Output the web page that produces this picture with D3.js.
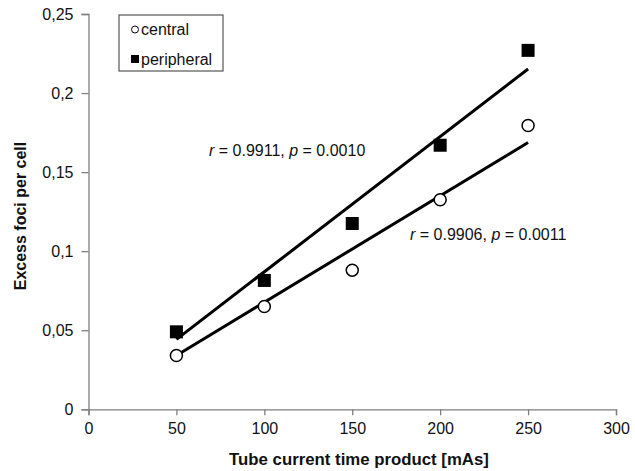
<!doctype html>
<html lang="en">
<head>
<meta charset="utf-8">
<title>Excess foci per cell</title>
<script src="https://cdn.jsdelivr.net/npm/d3@7"></script>
<style>
  body { margin: 0; background: #fff; }
  svg { display: block; font-family: "Liberation Sans", Arial, sans-serif; }
</style>
</head>
<body>
<svg id="chart" width="635" height="471"></svg>
<script>
// values
const mAs = [50, 100, 150, 200, 250];
const central = [0.034, 0.065, 0.088, 0.1325, 0.1795];
const peripheral = [0.049, 0.0815, 0.1175, 0.167, 0.227];
// fitted line end values at 50 and 250 mAs
const centralFit = [0.034, 0.1687];
const peripheralFit = [0.0442, 0.2152];
const xTicks = [0, 50, 100, 150, 200, 250, 300];
const yTicks = [0, 0.05, 0.1, 0.15, 0.2, 0.25];
const yTickLabels = ["0", "0,05", "0,1", "0,15", "0,2", "0,25"];

const svg = d3.select("#chart");
const x = d3.scaleLinear().domain([0, 300]).range([88.5, 616]);
const y = d3.scaleLinear().domain([0, 0.25]).range([409.3, 14]);
const axisColor = "#7f7f7f";

const xAxis = svg.append("g")
  .attr("transform", `translate(0,${y(0)})`)
  .call(d3.axisBottom(x).tickValues(xTicks).tickSize(6).tickPadding(7).tickFormat(d3.format("d")));
const yAxis = svg.append("g")
  .attr("transform", `translate(${x(0)},0)`)
  .call(d3.axisLeft(y).tickValues(yTicks).tickSize(7).tickPadding(8)
    .tickFormat((d, i) => yTickLabels[i]));
for (const g of [xAxis, yAxis]) {
  g.select(".domain").attr("stroke", axisColor).attr("stroke-width", 1.3);
  g.selectAll(".tick line").attr("stroke", axisColor).attr("stroke-width", 1.3);
  g.selectAll(".tick text").attr("fill", "#111").style("font-size", "16px");
}

// trend lines
const fits = [centralFit, peripheralFit];
svg.append("g").selectAll("line").data(fits).join("line")
  .attr("x1", x(mAs[0])).attr("x2", x(mAs[mAs.length - 1]))
  .attr("y1", d => y(d[0])).attr("y2", d => y(d[1]))
  .attr("stroke", "#000").attr("stroke-width", 3);

// markers
svg.append("g").selectAll("circle").data(mAs).join("circle")
  .attr("cx", d => x(d)).attr("cy", (d, i) => y(central[i])).attr("r", 6)
  .attr("fill", "#fff").attr("stroke", "#000").attr("stroke-width", 1.5);
svg.append("g").selectAll("rect").data(mAs).join("rect")
  .attr("x", d => x(d) - 6.5).attr("y", (d, i) => y(peripheral[i]) - 6.5)
  .attr("width", 13).attr("height", 13).attr("fill", "#000");

// annotations
function annot(tx, ty, r, p) {
  const t = svg.append("text").attr("x", tx).attr("y", ty).style("font-size", "16px").attr("fill", "#111");
  t.append("tspan").attr("font-style", "italic").text("r");
  t.append("tspan").text(` = ${r}, `);
  t.append("tspan").attr("font-style", "italic").text("p");
  t.append("tspan").text(` = ${p}`);
}
annot(209, 156, "0.9911", "0.0010");
annot(410, 240, "0.9906", "0.0011");

// legend
const lg = svg.append("g");
lg.append("rect").attr("x", 119).attr("y", 15).attr("width", 104).attr("height", 56)
  .attr("fill", "#fff").attr("stroke", "#555").attr("stroke-width", 1.2);
lg.append("circle").attr("cx", 135).attr("cy", 29.5).attr("r", 3.5)
  .attr("fill", "#fff").attr("stroke", "#000").attr("stroke-width", 1);
lg.append("rect").attr("x", 131).attr("y", 55).attr("width", 8).attr("height", 8).attr("fill", "#000");
lg.append("text").attr("x", 141).attr("y", 35).style("font-size", "16px").attr("fill", "#111").text("central");
lg.append("text").attr("x", 141).attr("y", 65).style("font-size", "16px").attr("fill", "#111").text("peripheral");

// axis titles
svg.append("text").attr("x", 359).attr("y", 465).attr("text-anchor", "middle")
  .style("font-size", "16.8px").attr("font-weight", "bold").attr("fill", "#111")
  .text("Tube current time product [mAs]");
svg.append("text").attr("transform", "translate(26,216) rotate(-90)").attr("text-anchor", "middle")
  .style("font-size", "16px").attr("font-weight", "bold").attr("fill", "#111")
  .text("Excess foci per cell");
</script>
</body>
</html>
